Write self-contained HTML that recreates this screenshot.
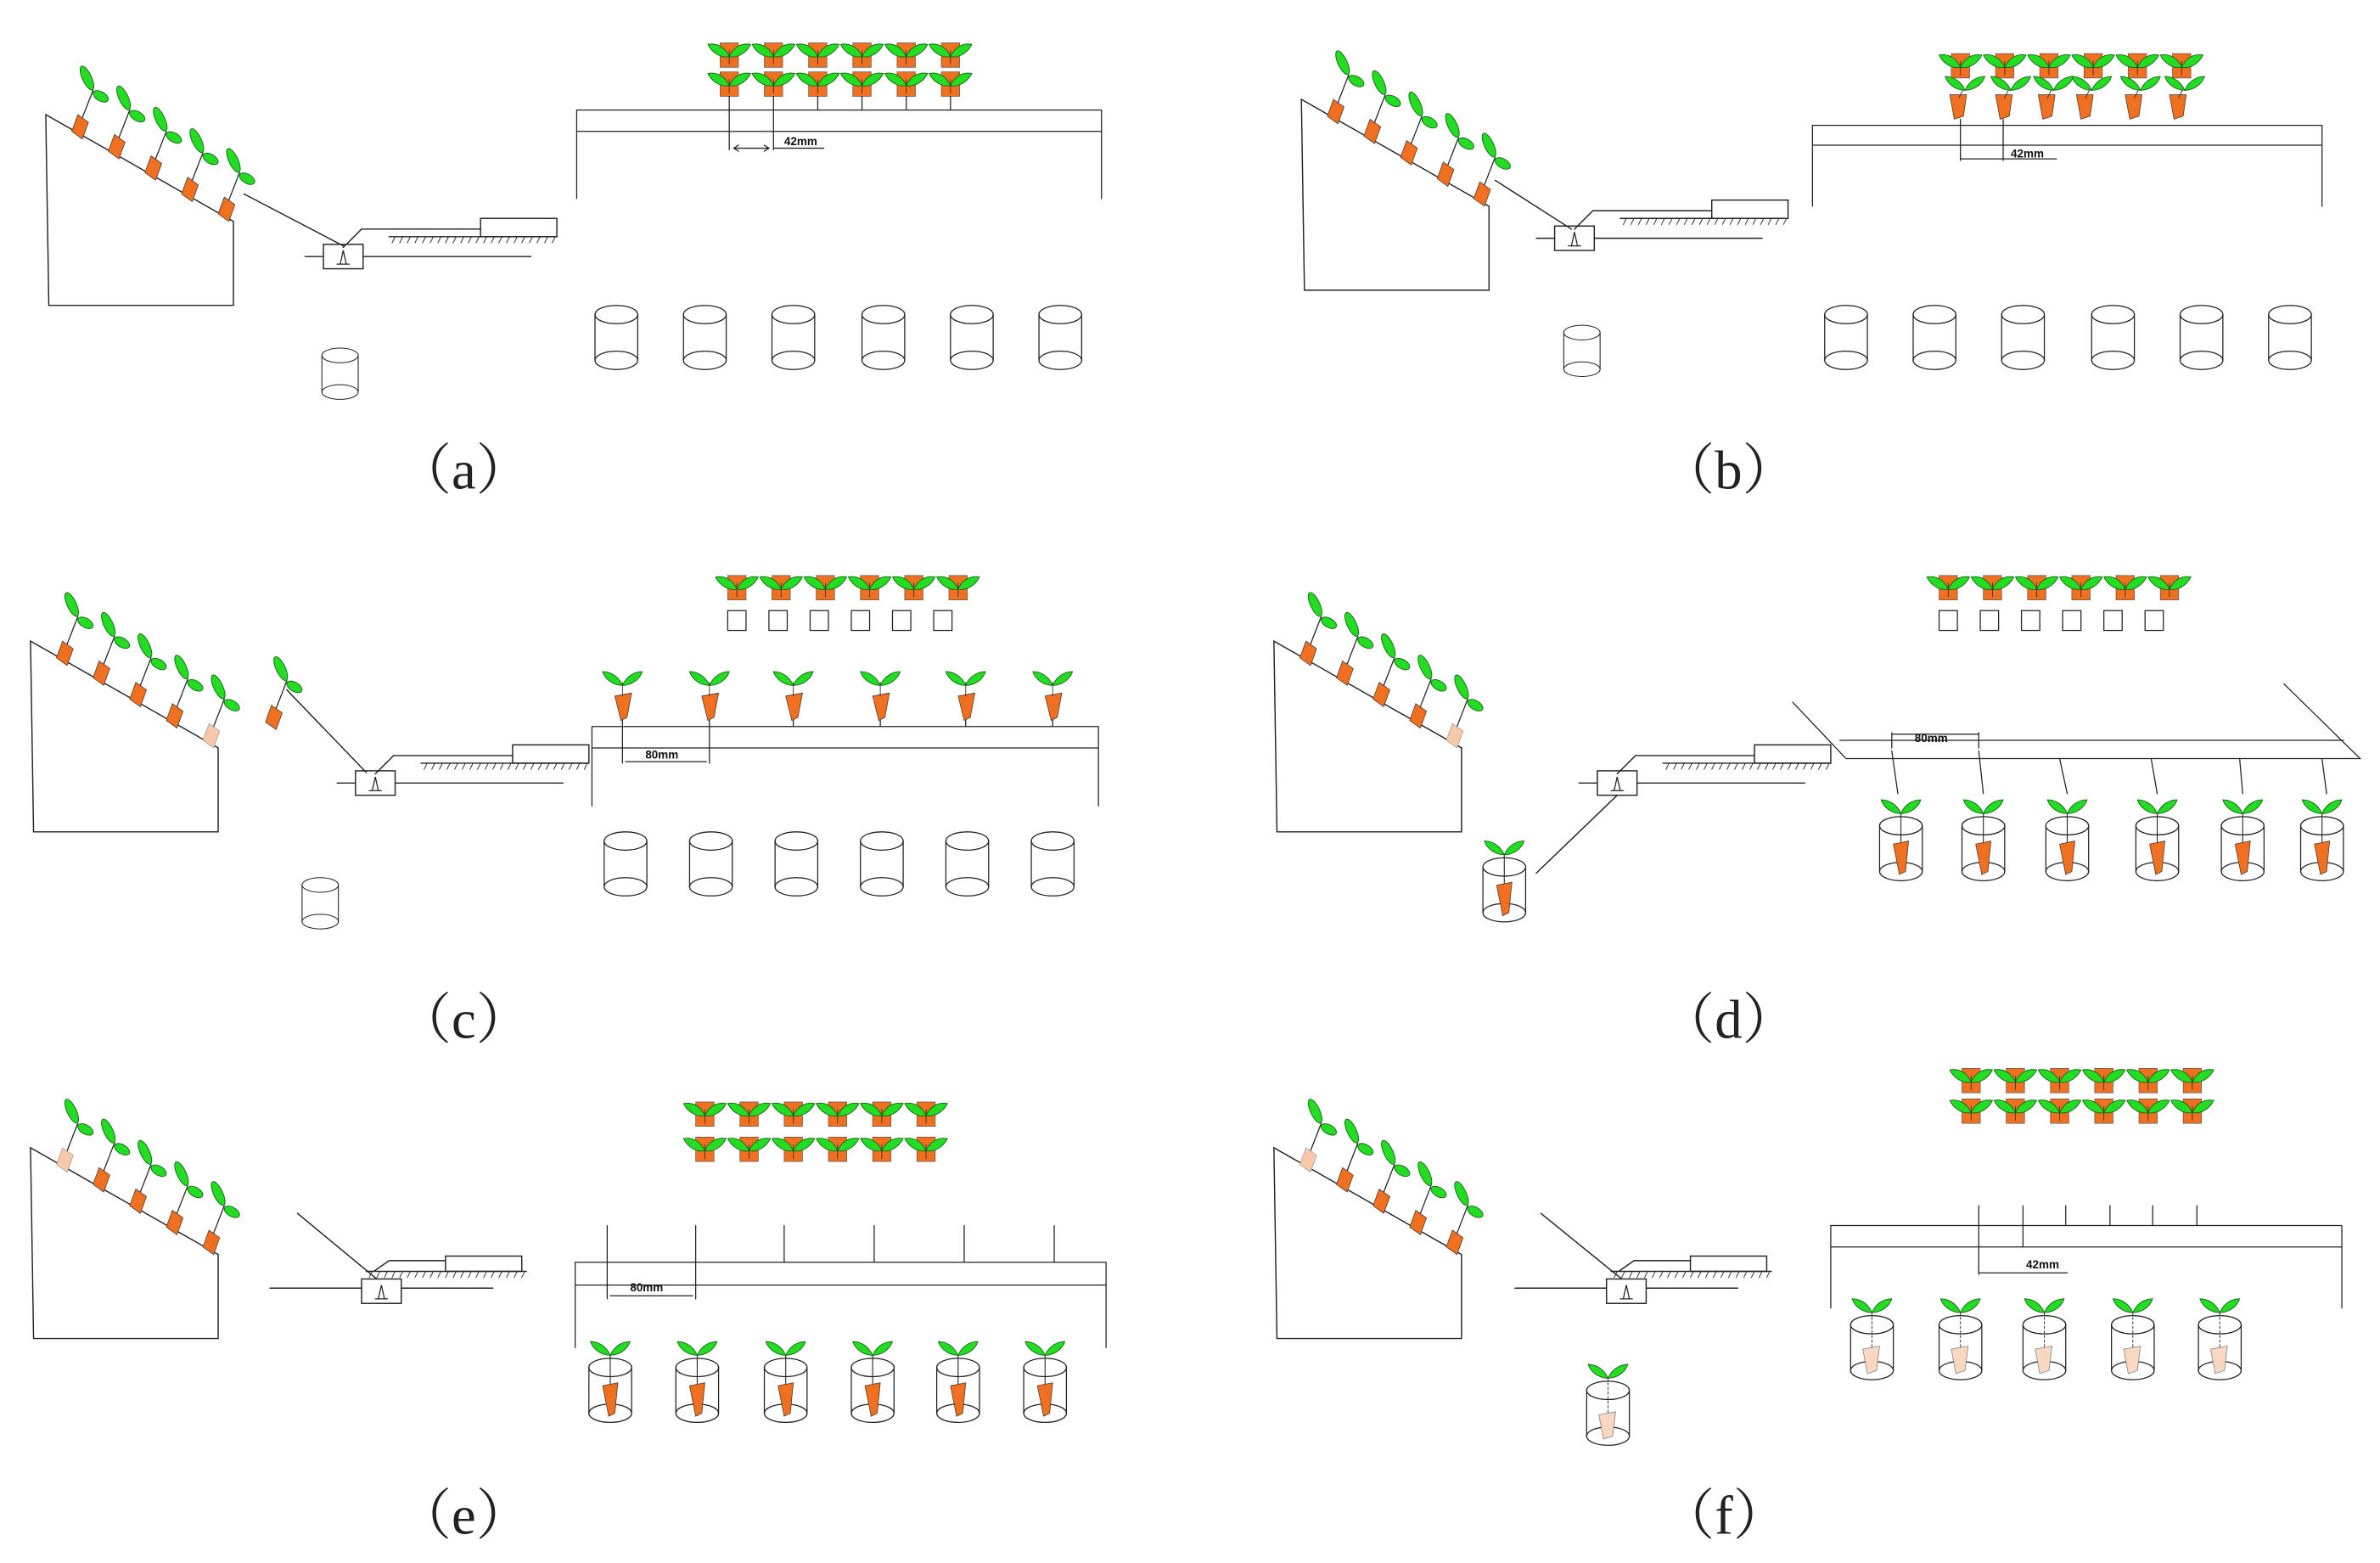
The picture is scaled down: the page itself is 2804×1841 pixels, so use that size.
<!DOCTYPE html>
<html><head><meta charset="utf-8"><style>
html,body{margin:0;padding:0;background:#fff;}
svg{display:block;}
.lbl{font-family:"Liberation Serif","Noto Serif CJK SC",serif;font-size:36px;fill:#222;}
.dim{font-family:"Liberation Sans",sans-serif;font-size:7.5px;font-weight:bold;fill:#111;}
</style></head><body>
<svg width="2804" height="1841" viewBox="0 0 1560 1024" xmlns="http://www.w3.org/2000/svg">
<defs>
<g id="sp"><line x1="0" y1="2" x2="7" y2="-16" stroke="#222" stroke-width="0.7"/>
<polygon points="-3,0 4,5 0,16 -7,11" fill="#f07020" stroke="#333" stroke-width="0.4"/>
<ellipse cx="3" cy="-24" rx="3" ry="8.5" transform="rotate(-25 3 -24)" fill="#22dd22" stroke="#186018" stroke-width="0.5"/>
<ellipse cx="12" cy="-12" rx="5.5" ry="3" transform="rotate(30 12 -12)" fill="#22dd22" stroke="#186018" stroke-width="0.5"/></g>
<g id="spp"><line x1="0" y1="2" x2="7" y2="-16" stroke="#222" stroke-width="0.7"/>
<polygon points="-3,0 4,5 0,16 -7,11" fill="#f8c8a8" stroke="#999" stroke-width="0.4"/>
<ellipse cx="3" cy="-24" rx="3" ry="8.5" transform="rotate(-25 3 -24)" fill="#22dd22" stroke="#186018" stroke-width="0.5"/>
<ellipse cx="12" cy="-12" rx="5.5" ry="3" transform="rotate(30 12 -12)" fill="#22dd22" stroke="#186018" stroke-width="0.5"/></g>
<g id="box"><polygon points="0,0 123,70 123,125 2,125" fill="none" stroke="#222" stroke-width="0.8"/></g>
<g id="rp"><rect x="-6" y="0" width="12" height="16" fill="#f07020" stroke="#555" stroke-width="0.4"/>
<line x1="0" y1="5" x2="0" y2="14" stroke="#333" stroke-width="0.5"/>
<path d="M0,9 C-3,2 -9,0 -14,1 C-11,7 -5,10 0,9Z" fill="#22dd22" stroke="#186018" stroke-width="0.5"/>
<path d="M0,9 C3,2 9,0 14,1 C11,7 5,10 0,9Z" fill="#22dd22" stroke="#186018" stroke-width="0.5"/></g>
<g id="cyl" fill="none" stroke="#222" stroke-width="0.7"><ellipse cx="14" cy="6" rx="14" ry="6"/><ellipse cx="14" cy="36" rx="14" ry="6"/><line x1="0" y1="6" x2="0" y2="36"/><line x1="28" y1="6" x2="28" y2="36"/></g>
<g id="lv"><path d="M0,0 C-3,-7 -9,-9 -13,-9 C-11,-3 -5,0 0,0Z" fill="#22dd22" stroke="#186018" stroke-width="0.5"/>
<path d="M0,0 C3,-7 9,-9 13,-9 C11,-3 5,0 0,0Z" fill="#22dd22" stroke="#186018" stroke-width="0.5"/></g>
<g id="cp"><use href="#cyl"/><line x1="14" y1="-2" x2="14" y2="22" stroke="#222" stroke-width="0.6"/>
<polygon points="9,18 19,16 17,36 13,38" fill="#f07020" stroke="#333" stroke-width="0.4"/><use href="#lv" x="14" y="-2"/></g>
<g id="cpp"><use href="#cyl"/><line x1="14" y1="-2" x2="14" y2="26" stroke="#444" stroke-width="0.6" stroke-dasharray="1.5,1.5"/>
<polygon points="8,22 19,20 17,36 11,38" fill="#f8d8c0" stroke="#777" stroke-width="0.4"/><use href="#lv" x="14" y="-2"/></g>
<g id="tp"><polygon points="-5,0 6,0 4,14 -2,16" fill="#f07020" stroke="#333" stroke-width="0.4"/><line x1="1" y1="2" x2="4" y2="-4" stroke="#333" stroke-width="0.5"/><use href="#lv" x="5" y="-3"/></g>
<g id="mech" fill="none" stroke="#222" stroke-width="0.8">
<rect x="0" y="0" width="26" height="16"/><path d="M9,13 L17,13 M11,13 L13,4 L15,13" stroke-width="0.7"/>
<line x1="-12" y1="8" x2="0" y2="8"/><line x1="26" y1="8" x2="136" y2="8"/>
<line x1="43" y1="-5" x2="153" y2="-5"/><path d="M45,-1 l2,-4 M50,-1 l2,-4 M55,-1 l2,-4 M60,-1 l2,-4 M65,-1 l2,-4 M70,-1 l2,-4 M75,-1 l2,-4 M80,-1 l2,-4 M85,-1 l2,-4 M90,-1 l2,-4 M95,-1 l2,-4 M100,-1 l2,-4 M105,-1 l2,-4 M110,-1 l2,-4 M115,-1 l2,-4 M120,-1 l2,-4 M125,-1 l2,-4 M130,-1 l2,-4 M135,-1 l2,-4 M140,-1 l2,-4 M145,-1 l2,-4 M150,-1 l2,-4" stroke-width="0.5"/>
<rect x="103" y="-17" width="50" height="12"/><polyline points="13,2 25,-10 103,-10"/></g>
<g id="mech2" fill="none" stroke="#222" stroke-width="0.8">
<rect x="0" y="0" width="26" height="16"/><path d="M9,13 L17,13 M11,13 L13,4 L15,13" stroke-width="0.7"/>
<line x1="-60" y1="6" x2="0" y2="6"/><line x1="26" y1="6" x2="86" y2="6"/>
<line x1="3" y1="-5" x2="108" y2="-5"/><path d="M5,-1 l2,-4 M10,-1 l2,-4 M15,-1 l2,-4 M20,-1 l2,-4 M25,-1 l2,-4 M30,-1 l2,-4 M35,-1 l2,-4 M40,-1 l2,-4 M45,-1 l2,-4 M50,-1 l2,-4 M55,-1 l2,-4 M60,-1 l2,-4 M65,-1 l2,-4 M70,-1 l2,-4 M75,-1 l2,-4 M80,-1 l2,-4 M85,-1 l2,-4 M90,-1 l2,-4 M95,-1 l2,-4 M100,-1 l2,-4 M105,-1 l2,-4" stroke-width="0.5"/>
<rect x="55" y="-15" width="50" height="10"/><polyline points="8,-5 18,-12 55,-12"/></g>
<g id="row6"><use href="#rp" x="0"/><use href="#rp" x="29"/><use href="#rp" x="58"/><use href="#rp" x="87"/><use href="#rp" x="116"/><use href="#rp" x="145"/></g>
<g id="sq6" fill="none" stroke="#222" stroke-width="0.7"><rect x="-6" y="0" width="12" height="13"/><rect x="21" y="0" width="12" height="13"/><rect x="48" y="0" width="12" height="13"/><rect x="75" y="0" width="12" height="13"/><rect x="102" y="0" width="12" height="13"/><rect x="129" y="0" width="12" height="13"/></g>
</defs>

<g stroke-linecap="round">
<!-- (a) -->
<g transform="translate(30,75)"><use href="#box"/><use href="#sp" x="24" y="0"/><use href="#sp" x="48" y="13"/><use href="#sp" x="72" y="27"/><use href="#sp" x="96" y="41"/><use href="#sp" x="120" y="54"/></g>
<line x1="160" y1="127" x2="225" y2="161" stroke="#222" stroke-width="0.8"/>
<use href="#mech" x="212" y="160"/>
<g transform="translate(211,228) scale(0.85,0.8)"><use href="#cyl"/></g>
<use href="#row6" x="478" y="28"/><use href="#row6" x="478" y="47"/>
<g stroke="#222" stroke-width="0.7" fill="none">
<path d="M378,72 H722 M378,86 H722 M378,72 V130 M722,72 V130"/>
<path d="M478,63 V98 M507,63 V98 M536,63 V72 M565,63 V72 M594,63 V72 M623,63 V72 M481,97 H504 M507,97 H540"/>
<path d="M484,95 l-3,2 3,2 M501,95 l3,2 -3,2"/>
</g>
<text class="dim" x="514" y="95">42mm</text>
<use href="#cyl" x="390" y="200"/><use href="#cyl" x="448" y="200"/><use href="#cyl" x="506" y="200"/><use href="#cyl" x="565" y="200"/><use href="#cyl" x="623" y="200"/><use href="#cyl" x="681" y="200"/>
<text class="lbl" x="260" y="320">（a）</text>

<!-- (b) -->
<g transform="translate(853,65)"><use href="#box"/><use href="#sp" x="24" y="0"/><use href="#sp" x="48" y="13"/><use href="#sp" x="72" y="27"/><use href="#sp" x="96" y="41"/><use href="#sp" x="120" y="54"/></g>
<line x1="980" y1="118" x2="1030" y2="150" stroke="#222" stroke-width="0.8"/>
<use href="#mech" x="1019" y="148"/>
<g transform="translate(1025,213) scale(0.85,0.8)"><use href="#cyl"/></g>
<use href="#row6" x="1285" y="35"/>
<use href="#tp" x="1283" y="62"/><use href="#tp" x="1313" y="62"/><use href="#tp" x="1341" y="62"/><use href="#tp" x="1366" y="62"/><use href="#tp" x="1398" y="62"/><use href="#tp" x="1427" y="62"/>
<g stroke="#222" stroke-width="0.7" fill="none">
<path d="M1188,82 H1522 M1188,95 H1522 M1188,82 V135 M1522,82 V135"/>
<path d="M1285,78 V105 M1313,78 V105 M1285,104 H1348"/>
</g>
<text class="dim" x="1318" y="103">42mm</text>
<use href="#cyl" x="1196" y="200"/><use href="#cyl" x="1254" y="200"/><use href="#cyl" x="1312" y="200"/><use href="#cyl" x="1371" y="200"/><use href="#cyl" x="1429" y="200"/><use href="#cyl" x="1487" y="200"/>
<text class="lbl" x="1088" y="320">（b）</text>

<!-- (c) -->
<g transform="translate(20,420)"><use href="#box"/><use href="#sp" x="24" y="0"/><use href="#sp" x="48" y="13"/><use href="#sp" x="72" y="27"/><use href="#sp" x="96" y="41"/><use href="#spp" x="120" y="54"/></g>
<use href="#sp" x="181" y="462"/>
<line x1="188" y1="452" x2="240" y2="506" stroke="#222" stroke-width="0.8"/>
<use href="#mech" x="233" y="505"/>
<g transform="translate(198,575) scale(0.85,0.8)"><use href="#cyl"/></g>
<use href="#row6" x="483" y="377"/><use href="#sq6" x="483" y="400"/>
<g stroke="#222" stroke-width="0.7" fill="none">
<path d="M388,476 H720 M388,490 H720 M388,476 V528 M720,476 V528"/>
<path d="M408,470 V500 M465,470 V500 M520,470 V476 M577,470 V476 M633,470 V476 M690,470 V476 M410,499 H463"/>
</g>
<text class="dim" x="423" y="497">80mm</text>
<g id="cpl"><polygon points="403,456 414,454 411,470 407,472" fill="#f07020" stroke="#333" stroke-width="0.4"/><line x1="408" y1="456" x2="408" y2="447" stroke="#333" stroke-width="0.5"/><use href="#lv" x="408" y="449"/></g>
<use href="#cpl" x="57"/><use href="#cpl" x="112"/><use href="#cpl" x="169"/><use href="#cpl" x="225"/><use href="#cpl" x="282"/>
<use href="#cyl" x="396" y="545"/><use href="#cyl" x="452" y="545"/><use href="#cyl" x="508" y="545"/><use href="#cyl" x="564" y="545"/><use href="#cyl" x="620" y="545"/><use href="#cyl" x="676" y="545"/>
<text class="lbl" x="260" y="680">（c）</text>

<!-- (d) -->
<g transform="translate(835,420)"><use href="#box"/><use href="#sp" x="24" y="0"/><use href="#sp" x="48" y="13"/><use href="#sp" x="72" y="27"/><use href="#sp" x="96" y="41"/><use href="#spp" x="120" y="54"/></g>
<use href="#mech" x="1047" y="505"/>
<line x1="1060" y1="521" x2="1007" y2="572" stroke="#222" stroke-width="0.8"/>
<use href="#cp" x="972" y="562"/>
<use href="#row6" x="1277" y="377"/><use href="#sq6" x="1277" y="400"/>
<g stroke="#222" stroke-width="0.7" fill="none">
<path d="M1175,460 L1210,497 H1547 L1497,448 M1206,485 H1536"/>
<path d="M1240,492 L1244,520 M1297,492 L1300,520 M1350,497 L1355,520 M1410,497 L1414,520 M1468,497 L1470,520 M1522,497 L1525,520"/>
<path d="M1240,480 V490 M1297,480 V490 M1240,481 H1297"/>
</g>
<text class="dim" x="1255" y="486">80mm</text>
<use href="#cp" x="1232" y="535"/><use href="#cp" x="1286" y="535"/><use href="#cp" x="1341" y="535"/><use href="#cp" x="1400" y="535"/><use href="#cp" x="1456" y="535"/><use href="#cp" x="1508" y="535"/>
<text class="lbl" x="1088" y="680">（d）</text>

<!-- (e) -->
<g transform="translate(20,752)"><use href="#box"/><use href="#spp" x="24" y="0"/><use href="#sp" x="48" y="13"/><use href="#sp" x="72" y="27"/><use href="#sp" x="96" y="41"/><use href="#sp" x="120" y="54"/></g>
<line x1="195" y1="795" x2="247" y2="838" stroke="#222" stroke-width="0.8"/>
<use href="#mech2" x="237" y="838"/>
<use href="#row6" x="462" y="722"/><use href="#row6" x="462" y="745"/>
<g stroke="#222" stroke-width="0.7" fill="none">
<path d="M377,827 H725 M377,842 H725 M377,827 V883 M725,827 V883"/>
<path d="M398,803 V851 M456,803 V851 M514,803 V827 M573,803 V827 M632,803 V827 M691,803 V827 M400,849 H454"/>
</g>
<text class="dim" x="413" y="846">80mm</text>
<use href="#cp" x="386" y="890"/><use href="#cp" x="443" y="890"/><use href="#cp" x="501" y="890"/><use href="#cp" x="558" y="890"/><use href="#cp" x="614" y="890"/><use href="#cp" x="671" y="890"/>
<text class="lbl" x="260" y="1005">（e）</text>

<!-- (f) -->
<g transform="translate(835,752)"><use href="#box"/><use href="#spp" x="24" y="0"/><use href="#sp" x="48" y="13"/><use href="#sp" x="72" y="27"/><use href="#sp" x="96" y="41"/><use href="#sp" x="120" y="54"/></g>
<line x1="1010" y1="795" x2="1063" y2="838" stroke="#222" stroke-width="0.8"/>
<use href="#mech2" x="1053" y="838"/>
<use href="#cpp" x="1040" y="905"/>
<use href="#row6" x="1292" y="700"/><use href="#row6" x="1292" y="720"/>
<g stroke="#222" stroke-width="0.7" fill="none">
<path d="M1200,803 H1535 M1200,817 H1535 M1200,803 V857 M1535,803 V857"/>
<path d="M1297,790 V835 M1326,790 V817 M1354,790 V803 M1383,790 V803 M1411,790 V803 M1440,790 V803 M1297,834 H1355"/>
</g>
<text class="dim" x="1328" y="831">42mm</text>
<use href="#cpp" x="1213" y="862"/><use href="#cpp" x="1271" y="862"/><use href="#cpp" x="1326" y="862"/><use href="#cpp" x="1384" y="862"/><use href="#cpp" x="1441" y="862"/>
<text class="lbl" x="1088" y="1005">（f）</text>
</g>
</svg>
</body></html>
